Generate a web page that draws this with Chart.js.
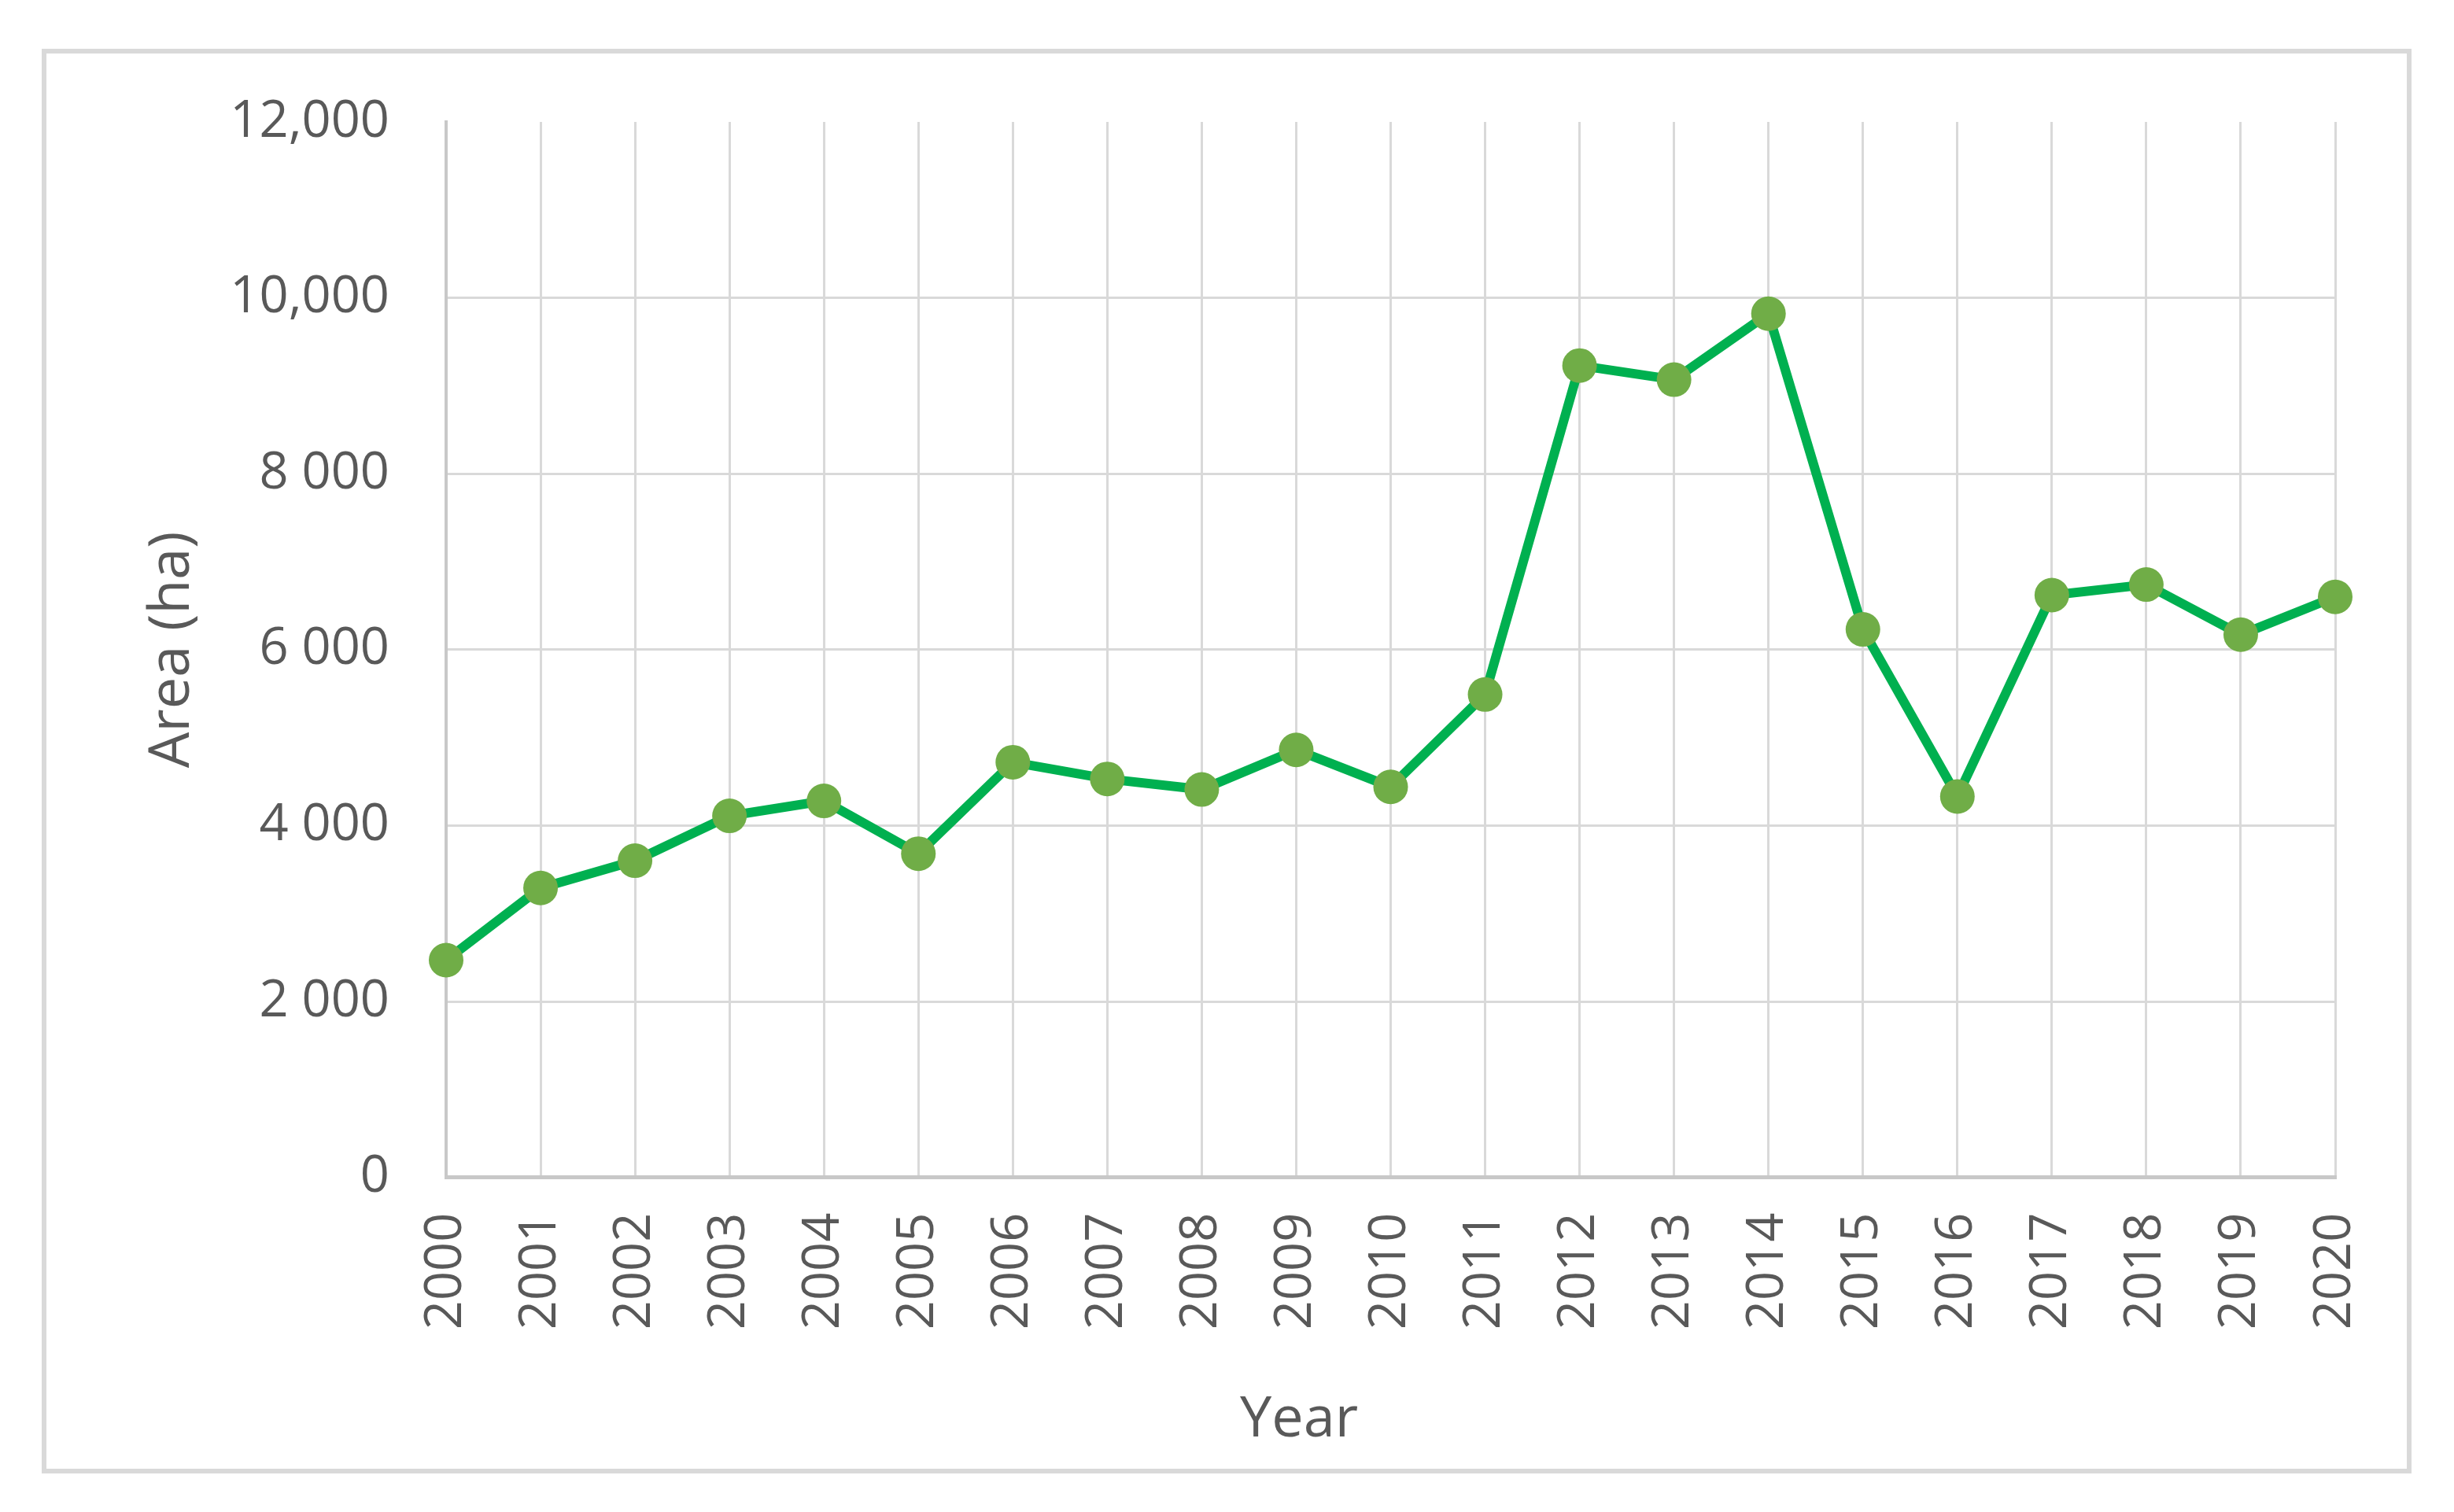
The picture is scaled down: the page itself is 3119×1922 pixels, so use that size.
<!DOCTYPE html>
<html>
<head>
<meta charset="utf-8">
<script src="https://cdn.jsdelivr.net/npm/chart.js@4.4.1/dist/chart.umd.min.js"></script>
<style>
  html, body { margin: 0; padding: 0; background: #fff; overflow: hidden; }
  #frame {
    position: absolute; left: 53px; top: 62px;
    width: 3000px; height: 1799px;
    border: 6px solid #d9d9d9;
  }
  #area-chart { position: absolute; left: 0; top: 0; }
</style>
</head>
<body>
<div id="frame"></div>
<canvas id="area-chart" width="3119" height="1922"></canvas>
<script>
// Annual area (ha), 2000-2020
const years = ['2000', '2001', '2002', '2003', '2004', '2005', '2006', '2007', '2008', '2009', '2010',
               '2011', '2012', '2013', '2014', '2015', '2016', '2017', '2018', '2019', '2020'];
const areaHa = [2470, 3290, 3600, 4110, 4280, 3680, 4720, 4530, 4410, 4860, 4440,
                5490, 9230, 9070, 9820, 6230, 4330, 6620, 6740, 6170, 6600];

// y axis ticks as printed in the figure (mixed separators)
const yTickValues = [0, 2000, 4000, 6000, 8000, 10000, 12000];
const yTickLabels = ['0', '2 000', '4 000', '6 000', '8 000', '10,000', '12,000'];

const textColor = '#595959';
const gridColor = '#d9d9d9';

// the left padding is there to centre "Year" like the original;
// give the y scale back the room for its labels and title
const yLabelRoom = {
    id: 'yLabelRoom',
    afterLayout(chart) {
        chart.scales.y.left = 0;
    }
};

const ctx = document.getElementById('area-chart').getContext('2d');

new Chart(ctx, {
    type: 'line',
    data: {
        labels: years,
        datasets: [{
            label: 'Area (ha)',
            data: areaHa,
            borderColor: '#00b050',
            borderWidth: 12,
            tension: 0,
            pointRadius: 22,
            pointHoverRadius: 22,
            pointBackgroundColor: '#70ad47',
            pointBorderColor: '#70ad47',
            pointBorderWidth: 0,
            clip: false
        }]
    },
    plugins: [yLabelRoom],
    options: {
        responsive: false,
        devicePixelRatio: 1,
        animation: false,
        layout: { padding: { left: 334, right: 151, top: 155, bottom: 73 } },
        plugins: {
            legend: { display: false },
            tooltip: { enabled: false },
            title: {
                display: true,
                text: 'Year',
                position: 'bottom',
                color: textColor,
                padding: 0,
                font: { family: 'Open Sans', size: 72, weight: 'normal' }
            }
        },
        scales: {
            x: {
                offset: false,
                grid: {
                    color: gridColor,
                    lineWidth: 3,
                    drawTicks: false
                },
                border: { color: '#c8c8c8', width: 5 },
                ticks: {
                    color: textColor,
                    autoSkip: false,
                    minRotation: 90,
                    maxRotation: 90,
                    padding: 45,
                    font: { family: 'Open Sans', size: 65 }
                },
                afterFit: (scale) => { scale.height = 266; }
            },
            y: {
                min: 0,
                max: 12000,
                grid: {
                    color: (c) => c.tick && c.tick.value === 12000 ? 'rgba(0,0,0,0)' : gridColor,
                    lineWidth: 3,
                    drawTicks: false
                },
                border: { color: '#c8c8c8', width: 4 },
                afterBuildTicks: (scale) => {
                    scale.ticks = yTickValues.map(v => ({ value: v }));
                },
                ticks: {
                    color: textColor,
                    padding: 72,
                    font: { family: 'Open Sans', size: 65 },
                    callback: (value) => yTickLabels[yTickValues.indexOf(value)]
                },
                title: {
                    display: true,
                    text: 'Area (ha)',
                    color: textColor,
                    padding: { top: 176, bottom: 0 },
                    font: { family: 'Open Sans', size: 72 }
                },
                afterFit: (scale) => { scale.width = 233; }
            }
        }
    }
});
</script>
</body>
</html>
